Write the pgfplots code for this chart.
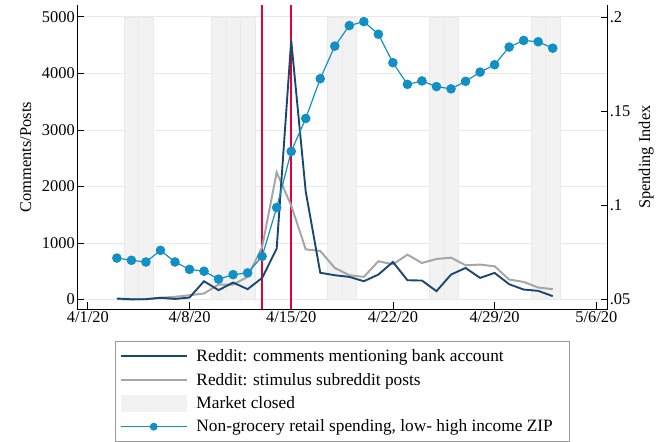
\documentclass[border=0pt]{standalone}
\usepackage{fontspec}
\setmainfont{Liberation Serif}
\usepackage{pgfplots}
\pgfplotsset{compat=1.18}
\definecolor{navyc}{HTML}{1A476F}
\definecolor{grayc}{HTML}{A6A6A6}
\definecolor{spendc}{HTML}{1290C6}
\definecolor{redc}{HTML}{E2003A}
\definecolor{shadec}{HTML}{F2F2F2}
\definecolor{shadeedge}{HTML}{EAEAEA}
\definecolor{gridc}{HTML}{E8E8E8}
\newcommand{\fs}{\fontsize{16.5}{19}\selectfont}
\newcommand{\fl}{\fontsize{17.4}{20}\selectfont}
\pgfplotsset{
  navy legend/.style={legend image code/.code={\draw[navyc, line width=1.9pt] (0pt,0pt) -- (66pt,0pt);}},
  gray legend/.style={legend image code/.code={\draw[grayc, line width=2pt] (0pt,0pt) -- (66pt,0pt);}},
  shade legend/.style={legend image code/.code={\fill[shadec] (0pt,-8.5pt) rectangle (66pt,8.5pt);}},
  markline legend/.style={legend image code/.code={\draw[spendc, line width=1.2pt] (0pt,0pt) -- (66pt,0pt); \fill[spendc] (33pt,0pt) circle (3.3pt);}},
}
\begin{document}
\begin{tikzpicture}
\begin{axis}[name=main, scale only axis, width=533.4pt, height=306pt,
  xmin=-0.75, xmax=35.78, ymin=-176, ymax=5211,
  axis x line*=bottom, axis y line*=left,
  axis line style={-, black, line width=0.8pt},
  xtick={0,7,14,21,28,35},
  xticklabels={4/1/20,4/8/20,4/15/20,4/22/20,4/29/20,5/6/20},
  ytick={0,1000,2000,3000,4000,5000},
  ymajorgrids, grid style={color=gridc, line width=0.8pt},
  tick align=inside, major tick length=7pt,
  tick style={black, line width=0.8pt},
  /pgf/number format/1000 sep={}, /pgf/number format/assume math mode=true,
  tick label style={font=\fs},
  xticklabel style={inner sep=1pt, yshift=-1pt},
  yticklabel style={inner sep=2pt},
  ylabel={Comments/Posts},
  every axis y label/.style={at={(axis description cs:-0.0965,0.5)}, rotate=90, anchor=center, font=\fs},
  unbounded coords=jump,
]
\addplot[ybar, bar width=1, fill=shadec, draw=shadeedge, line width=0.5pt]
 coordinates {(3,5000) (4,5000) (9,5000) (10,5000) (11,5000) (17,5000) (18,5000) (24,5000) (25,5000) (31,5000) (32,5000)};
\addplot[draw=redc, line width=1.5pt] coordinates {(12,-176) (12,5211) (13,inf) (14,-176) (14,5211)};
\addplot[grayc, line width=2pt] coordinates {
(2,6) (3,0) (4,6) (5,30) (6,47) (7,76) (8,106) (9,264) (10,264) (11,400) (12,928) (13,2250) (14,1663) (15,887) (16,858) (17,558) (18,429) (19,400) (20,676) (21,623) (22,793) (23,646) (24,717) (25,740) (26,605) (27,617) (28,588) (29,353) (30,311) (31,212) (32,182)};
\addplot[navyc, line width=1.9pt] coordinates {
(2,18) (3,3) (4,5) (5,30) (6,10) (7,35) (8,323) (9,165) (10,300) (11,182) (12,382) (13,899) (14,4583) (15,1910) (16,473) (17,429) (18,400) (19,323) (20,441) (21,664) (22,341) (23,335) (24,147) (25,441) (26,558) (27,382) (28,470) (29,270) (30,176) (31,153) (32,59)};
\end{axis}
\begin{axis}[scale only axis, width=533.4pt, height=306pt,
  at={(main.south west)}, anchor=south west,
  xmin=-0.75, xmax=35.78, ymin=0.04472, ymax=0.20633,
  axis x line=none, axis y line*=right,
  axis line style={-, black, line width=0.8pt},
  ytick={0.05,0.1,0.15,0.2}, yticklabels={.05,.1,.15,.2},
  tick align=inside, major tick length=7pt,
  tick style={black, line width=0.8pt},
  tick label style={font=\fs},
  yticklabel style={inner sep=2pt},
  ylabel={Spending Index},
  every axis y label/.style={at={(axis description cs:1.0727,0.5)}, rotate=90, anchor=center, font=\fs},
  legend style={at={(0.5,-0.105)}, anchor=north, draw=gray!80, font=\fl,
    inner xsep=5pt, inner ysep=6pt, row sep=6pt,
    /tikz/every odd column/.append style={column sep=7pt}},
  legend cell align=left,
]
\addlegendimage{navy legend}
\addlegendentry{Reddit: comments mentioning bank account}
\addlegendimage{gray legend}
\addlegendentry{Reddit: stimulus subreddit posts}
\addlegendimage{shade legend}
\addlegendentry{Market closed}
\addplot[spendc, line width=1.2pt, mark=*, mark size=4.2pt, mark options={solid, fill=spendc, draw=spendc}, markline legend]
 coordinates {
(2,.0720) (3,.0708) (4,.0699) (5,.0761) (6,.0699) (7,.0660) (8,.0650) (9,.0608) (10,.0632) (11,.0641) (12,.0729) (13,.0988) (14,.1286) (15,.1461) (16,.1672) (17,.1845) (18,.1954) (19,.1975) (20,.1908) (21,.1757) (22,.1642) (23,.1660) (24,.1630) (25,.1618) (26,.1658) (27,.1707) (28,.1746) (29,.1840) (30,.1875) (31,.1868) (32,.1834)};
\addlegendentry{Non-grocery retail spending, low- high income ZIP\hspace*{10pt}}
\end{axis}
\path[use as bounding box] ([xshift=-77.3pt,yshift=-130pt]main.south west) rectangle ([xshift=46.3pt,yshift=5pt]main.north east);
\end{tikzpicture}
\end{document}
